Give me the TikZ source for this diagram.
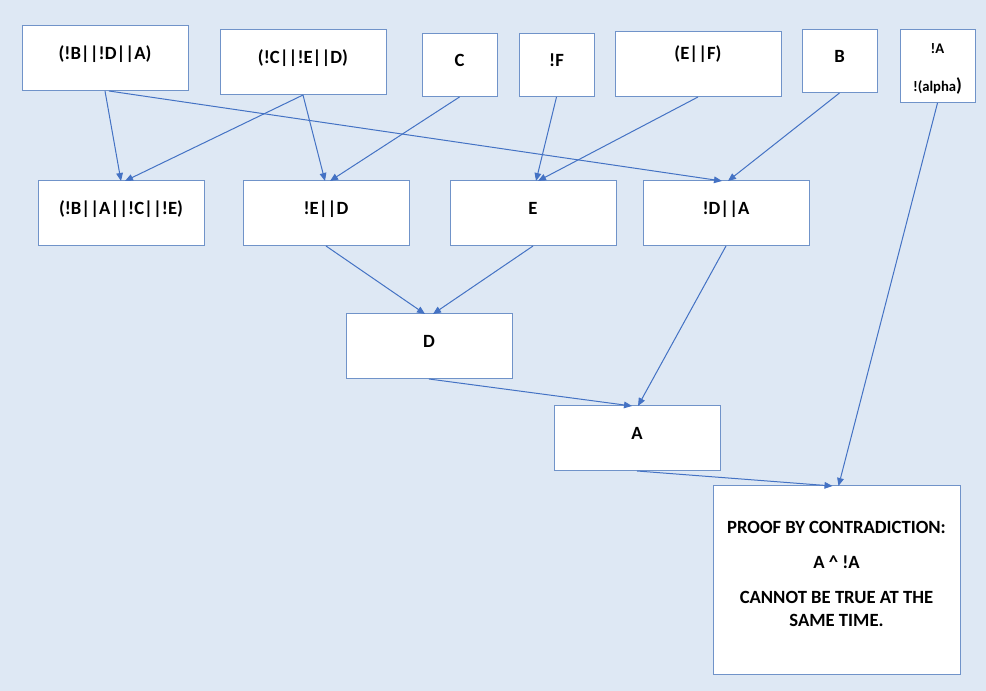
\documentclass[tikz,border=0pt]{standalone}
\usepackage{fontspec}
\setmainfont{Carlito}
\usetikzlibrary{arrows.meta}
\definecolor{bgc}{HTML}{DEE8F4}
\definecolor{bordc}{HTML}{7093C9}
\definecolor{arrc}{HTML}{4472C4}
\begin{document}
\begin{tikzpicture}[x=0.75pt,y=-0.75pt,
  box/.style={draw=bordc, fill=white, line width=0.75pt, inner sep=0pt, outer sep=0pt,
    anchor=north west, font=\fontsize{14pt}{17pt}\selectfont\bfseries},
  one/.style={text height=9pt, text depth=6.8pt},
  wide/.style={minimum width=124.5pt, minimum height=48.75pt},
  narrow/.style={minimum width=56.25pt, minimum height=47.25pt},
  arr/.style={draw=arrc, line width=0.75pt, -{Triangle[length=6pt,width=5pt]}}
]
\fill[bgc] (0,0) rectangle (986,691);
\useasboundingbox (0,0) rectangle (986,691);

% top row
\node[box,one,wide] (b1) at (22,26) {(!B||!D||A)};
\node[box,one,wide] (b2) at (220,30) {(!C||!E||D)};
\node[box,one,narrow] (b3) at (422,34) {C};
\node[box,one,narrow] (b4) at (519,34) {!F};
\node[box,wide,text height=9pt,text depth=17.2pt] (b5) at (615,32) {(E||F)};
\node[box,one,narrow] (b6) at (802,30) {B};
\node[box,minimum width=56.25pt,minimum height=54.75pt] (b7) at (900,30)
  {\fontsize{11pt}{13.2pt}\selectfont\begin{tabular}{@{}c@{}}\rule{0pt}{12.6pt}!A\\[13.8pt]!(alpha{\fontsize{14pt}{13.2pt}\selectfont)}\end{tabular}};

% second row
\node[box,one,wide,text depth=8pt] (r1) at (38,181) {(!B||A||!C||!E)};
\node[box,one,wide,text depth=8pt] (r2) at (243,181) {!E||D};
\node[box,one,wide,text depth=8pt] (r3) at (450,181) {E};
\node[box,one,wide,text depth=8pt] (r4) at (643,181) {!D||A};

% lower
\node[box,one,wide] (d) at (346,314) {D};
\node[box,one,wide] (a) at (554,406) {A};
\node[box,minimum width=185.25pt,minimum height=141pt] (p) at (713,486)
  {\fontsize{14pt}{17.5pt}\selectfont\begin{tabular}{@{}c@{}}PROOF BY CONTRADICTION:\\[8.2pt]
   A \^{} !A\\[8.7pt]
   CANNOT BE TRUE AT THE\\
   SAME TIME.\\[6.6pt]\end{tabular}};

% connectors
\draw[arr] (b1.south) -- (r1.north);
\draw[arr] (b2.south) -- ([xshift=3pt]r1.north);
\draw[arr] ([xshift=3pt]b1.south) -- ([xshift=-3pt]r4.north);
\draw[arr] (b2.south) -- ([xshift=-0.75pt]r2.north);
\draw[arr] (b3.south) -- ([xshift=3pt]r2.north);
\draw[arr] (b4.south) -- ([xshift=2.25pt]r3.north);
\draw[arr] (b5.south) -- ([xshift=3.75pt]r3.north);
\draw[arr] (b6.south) -- ([xshift=1.5pt]r4.north);
\draw[arr] (b7.south) -- ([xshift=1.5pt]p.north);
\draw[arr] (r2.south) -- ([xshift=-3pt]d.north);
\draw[arr] (r3.south) -- ([xshift=3pt]d.north);
\draw[arr] (r4.south) -- ([xshift=0.75pt]a.north);
\draw[arr] (d.south) -- ([xshift=-3.75pt]a.north);
\draw[arr] (a.south) -- ([xshift=-3pt]p.north);
\end{tikzpicture}
\end{document}
